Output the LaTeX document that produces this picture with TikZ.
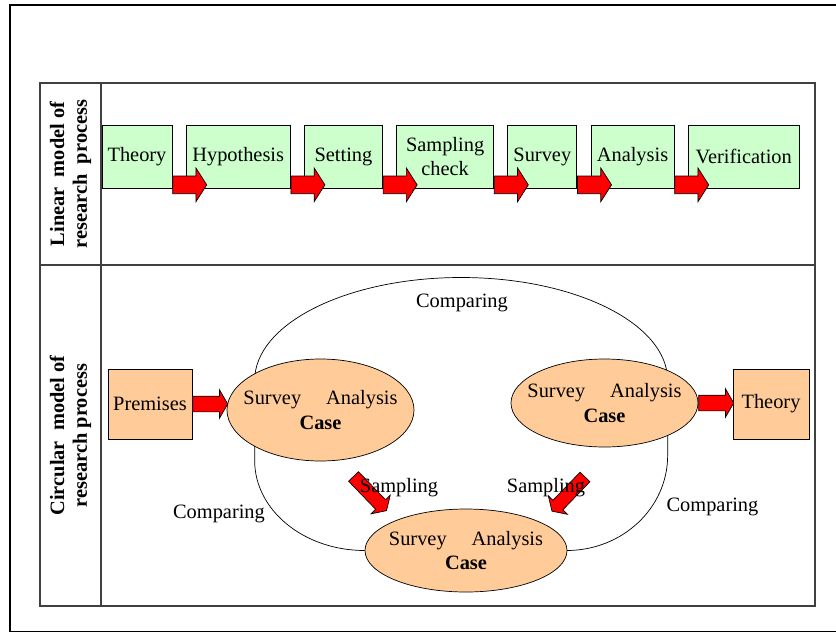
\documentclass[tikz,border=0pt]{standalone}
\usepackage{fontspec}
\setmainfont{Liberation Serif}
\usetikzlibrary{positioning, calc, shapes, backgrounds}

\definecolor{stepgreen}{HTML}{CCFFCC}
\definecolor{caseorange}{HTML}{FFCC99}

\begin{document}
\begin{tikzpicture}[
    font=\fontsize{11.6}{14}\selectfont,
    stage/.style={
        rectangle,
        draw=black,
        fill=stepgreen,
        minimum height=1.26cm,
        inner sep=1pt,
        align=center
    },
    endbox/.style={
        rectangle,
        draw=black,
        fill=caseorange,
        minimum height=1.4cm,
        inner sep=1pt
    },
    casenode/.style={
        ellipse,
        draw=black,
        fill=caseorange,
        inner xsep=-0.3cm,
        inner ysep=0pt,
        align=center
    },
    blockarrow/.style={
        single arrow,
        draw=black,
        fill=red,
        inner xsep=0pt,
        inner ysep=0.17cm,
        minimum height=0.68cm,
        single arrow head extend=0.16cm,
        single arrow tip angle=115
    },
    rowlabel/.style={
        rotate=90,
        align=center,
        font=\fontsize{11.6}{13}\selectfont\bfseries
    }
]
    \useasboundingbox (0,0) rectangle (16.72,12.66);

    % Frame and table
    \draw[line width=1.1pt] (16.72,12.56) -- (0.20,12.56) -- (0.20,0.03) -- (16.72,0.03);
    \draw[black!75, line width=0.7pt] (0.8,0.54) rectangle (16.30,11.0);
    \draw[black!75, line width=0.7pt] (2.02,0.54) -- (2.02,11.0);
    \draw[black!75, line width=0.7pt] (0.8,7.36) -- (16.30,7.36);

    \node[rowlabel] (linear_label) at (1.41,9.18) {Linear\ \ model of\\research\ \ process};
    \node[rowlabel] (circular_label) at (1.41,3.95) {Circular\ \ model of\\research process};

    % LINEAR MODEL
    \node[stage, minimum width=1.40cm] (theory_box) at (2.74,9.53) {Theory};
    \node[stage, minimum width=2.08cm, right=0.27cm of theory_box] (hypothesis_box) {Hypothesis};
    \node[stage, minimum width=1.56cm, right=0.27cm of hypothesis_box] (setting_box) {Setting};
    \node[stage, minimum width=1.94cm, right=0.27cm of setting_box] (sampling_box) {Sampling\\check};
    \node[stage, minimum width=1.38cm, right=0.27cm of sampling_box] (survey_box) {Survey};
    \node[stage, minimum width=1.66cm, right=0.27cm of survey_box] (analysis_box) {Analysis};
    \node[stage, minimum width=2.22cm, right=0.27cm of analysis_box] (verification_box) {Verification};

    \foreach \src in {theory_box, hypothesis_box, setting_box, sampling_box, survey_box, analysis_box} {
        \node[blockarrow, anchor=tail] (\src_arrow) at ($(\src.south east)+(0,0.07)$) {};
    }

    % CIRCULAR MODEL
    \node[endbox, minimum width=1.68cm] (premises_box) at (3.00,4.58) {Premises};
    \node[casenode, minimum width=3.74cm, minimum height=2.04cm] (case_left) at (6.41,4.46) {Survey\hspace{0.5cm}Analysis\\\textbf{Case}};
    \node[casenode, minimum width=3.74cm, minimum height=1.76cm] (case_right) at (12.09,4.60) {Survey\hspace{0.5cm}Analysis\\\textbf{Case}};
    \node[endbox, minimum width=1.52cm] (result_box) at (15.42,4.58) {Theory};
    \node[casenode, minimum width=4.04cm, minimum height=1.66cm] (case_bottom) at (9.32,1.65) {Survey\hspace{0.5cm}Analysis\\\textbf{Case}};

    \begin{scope}[on background layer]
        \draw (case_bottom.west) arc[start angle=270, end angle=180, x radius=2.20cm, y radius=1.80cm]
            -- ++(0,1.6) arc[start angle=180, end angle=0, x radius=4.13cm, y radius=2.06cm]
            -- ++(0,-1.5) arc[start angle=0, end angle=-90, x radius=2.02cm, y radius=1.90cm];
    \end{scope}

    \node[blockarrow, anchor=tail, minimum height=0.70cm, inner ysep=0.15cm,
        single arrow head extend=0.13cm, single arrow tip angle=120] (premises_arrow) at (premises_box.east) {};
    \node[blockarrow, anchor=tail, minimum height=0.70cm, inner ysep=0.15cm,
        single arrow head extend=0.13cm, single arrow tip angle=120] (case_right_arrow) at (case_right.east) {};
    \node[blockarrow, minimum height=0.95cm, inner ysep=0.13cm,
        single arrow head extend=0.13cm, rotate=-46] (sample_left_arrow) at (7.37,2.82) {};
    \node[blockarrow, minimum height=0.95cm, inner ysep=0.13cm,
        single arrow head extend=0.13cm, rotate=-134] (sample_right_arrow) at (11.40,2.81) {};

    \node (cmp_top) at (9.24,6.60) {Comparing};
    \node (cmp_left) at (4.38,2.38) {Comparing};
    \node (cmp_right) at (14.25,2.52) {Comparing};
    \node (smp_left) at (7.98,2.91) {Sampling};
    \node (smp_right) at (10.92,2.91) {Sampling};
\end{tikzpicture}
\end{document}
